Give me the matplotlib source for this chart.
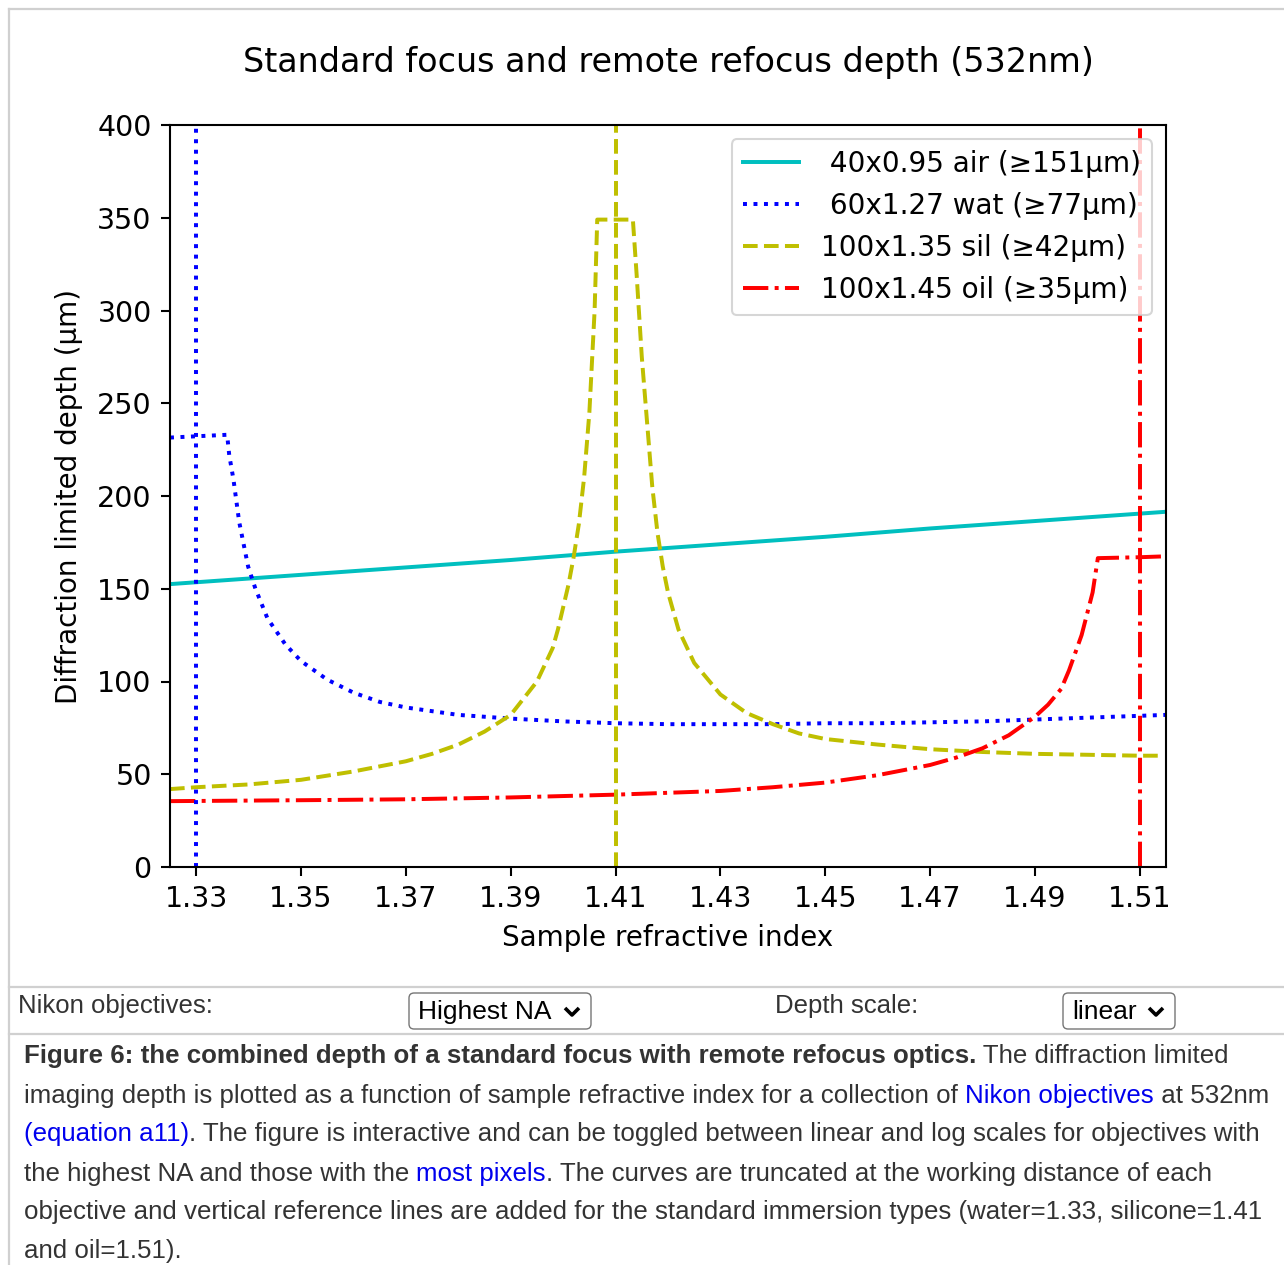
import numpy as np
import matplotlib
matplotlib.use('Agg')
import matplotlib.pyplot as plt
from matplotlib.patches import FancyBboxPatch
from matplotlib.lines import Line2D

W, H = 1284, 1265

labels = [' 40x0.95 air (≥151µm)', ' 60x1.27 wat (≥77µm)',
          '100x1.35 sil (≥42µm)', '100x1.45 oil (≥35µm)']
colors = ['c', 'b', 'y', 'r']
styles = ['-', ':', '--', '-.']

# 40x0.95 air
n_air = [1.325, 1.35, 1.37, 1.39, 1.41, 1.43, 1.45, 1.47, 1.49, 1.515]
d_air = [152.5, 157.5, 161.5, 165.5, 170, 174, 178, 182.5, 186.5, 191.5]

# 60x1.27 water
n_wat = [1.325, 1.3359, 1.3363, 1.3371, 1.3382, 1.3399, 1.3413, 1.3436, 1.347,
         1.35, 1.355, 1.36, 1.365, 1.37, 1.38, 1.39, 1.40, 1.41, 1.42, 1.43,
         1.44, 1.45, 1.46, 1.47, 1.48, 1.49, 1.50, 1.51, 1.515]
d_wat = [231.5, 233, 222, 209, 186, 162, 150, 134, 120,
         111, 101, 94, 89, 86, 82, 80, 78.5, 77.5, 77, 77,
         77, 77.5, 77.5, 78, 78.5, 79.5, 80.5, 81.5, 82]

# 100x1.35 silicone
n_sil = [1.325, 1.33, 1.34, 1.35, 1.36, 1.37, 1.375, 1.38, 1.385, 1.39, 1.395,
         1.398, 1.399, 1.40, 1.401, 1.402, 1.403, 1.404, 1.405, 1.406, 1.4065,
         1.4133, 1.414, 1.415, 1.416, 1.417, 1.418, 1.419, 1.42, 1.422, 1.425,
         1.43, 1.435, 1.44, 1.445, 1.45, 1.46, 1.47, 1.48, 1.49, 1.50, 1.51, 1.514]
d_sil = [42, 43, 44.5, 47, 51.5, 57, 61, 66, 73, 82, 100,
         118, 128, 140, 152, 167, 185, 210, 245, 300, 349,
         349, 320, 275, 240, 205, 180, 162, 148, 128, 110,
         93, 83, 77, 72, 69, 66, 63.5, 62, 61, 60.5, 60, 60]

# 100x1.45 oil
n_oil = [1.325, 1.35, 1.37, 1.39, 1.41, 1.43, 1.44, 1.45, 1.46, 1.47, 1.475,
         1.48, 1.485, 1.49, 1.4925, 1.495, 1.4965, 1.4989, 1.5010, 1.5020, 1.51, 1.515]
d_oil = [35.5, 36, 36.5, 37.5, 39, 41, 43, 45.5, 49.5, 55, 59,
         64, 71, 81, 87.5, 96, 106, 125, 148, 166.5, 167, 167.5]

immersion_n = [1.33, 1.41, 1.51]
immersion_col = ['b', 'y', 'r']
immersion_ls = [':', '--', '-.']

series_n = [n_air, n_wat, n_sil, n_oil]
series_d = [d_air, d_wat, d_sil, d_oil]

fig = plt.figure(figsize=(W / 100., H / 100.), dpi=100)
ax = fig.add_axes([170. / W, 1 - 867. / H, (1166. - 170.) / W, (867. - 125.) / H])

for n, d, c, ls, lab in zip(series_n, series_d, colors, styles, labels):
    ax.plot(n, d, color=c, linestyle=ls, linewidth=2.85, label=lab)
for n0, c, ls in zip(immersion_n, immersion_col, immersion_ls):
    ax.plot([n0, n0], [0, 400], color=c, linestyle=ls, linewidth=2.85)

ax.set_xlim(1.325, 1.515)
ax.set_ylim(0, 400)
ax.set_xticks([1.33, 1.35, 1.37, 1.39, 1.41, 1.43, 1.45, 1.47, 1.49, 1.51])
ax.set_yticks(range(0, 401, 50))
ax.tick_params(labelsize=20.5, length=6.6, width=1.5, pad=6.6)
for s in ax.spines.values():
    s.set_linewidth(1.5)
ax.set_xlabel('Sample refractive index', fontsize=20, labelpad=8)
ax.set_ylabel('Diffraction limited depth (µm)', fontsize=20, labelpad=10)
ax.set_title('Standard focus and remote refocus depth (532nm)', fontsize=24, pad=38)
leg = ax.legend(loc='upper right', fontsize=20.1, handlelength=2.0, labelspacing=0.5)
leg.get_frame().set_linewidth(1.5)

# page frame and control row
grey = '#d0d0d0'
for (x0, y0, x1, y1) in [(9, 9, W, 9), (9, 9, 9, H), (9, 987, W, 987), (9, 1034, W, 1034)]:
    fig.add_artist(Line2D([x0 / W, x1 / W], [1 - y0 / H, 1 - y1 / H], color=grey, linewidth=1.6))

txtcol = '#333333'
ff = 'Liberation Sans'
fig.text(18. / W, 1 - 1006. / H, 'Nikon objectives:', fontsize=18.5, family=ff, color=txtcol, va='center')
fig.text(775. / W, 1 - 1006. / H, 'Depth scale:', fontsize=18.5, family=ff, color=txtcol, va='center')

for (bx0, bx1, opt) in [(409, 591, 'Highest NA'), (1063, 1175, 'linear')]:
    box = FancyBboxPatch((bx0 / W, 1 - 1029. / H), (bx1 - bx0) / W, 36. / H,
                         boxstyle='round,pad=0,rounding_size=0.004',
                         transform=fig.transFigure, facecolor='white',
                         edgecolor='#767676', linewidth=1.0)
    fig.add_artist(box)
    fig.text((bx0 + 9.) / W, 1 - 1012. / H, opt, fontsize=19, family=ff, color='black', va='center')
    cx = bx1 - 19.
    fig.add_artist(Line2D([(cx - 7) / W, cx / W, (cx + 7) / W],
                          [1 - 1008. / H, 1 - 1015. / H, 1 - 1008. / H],
                          color='black', linewidth=2.6, solid_capstyle='butt'))

# caption
blue = '#0000ee'
caption = [
    [('Figure 6: the combined depth of a standard focus with remote refocus optics.', txtcol, 'bold'),
     (' The diffraction limited', txtcol, 'normal')],
    [('imaging depth is plotted as a function of sample refractive index for a collection of ', txtcol, 'normal'),
     ('Nikon objectives', blue, 'normal'), (' at 532nm', txtcol, 'normal')],
    [('(equation a11)', blue, 'normal'),
     ('. The figure is interactive and can be toggled between linear and log scales for objectives with', txtcol, 'normal')],
    [('the highest NA and those with the ', txtcol, 'normal'), ('most pixels', blue, 'normal'),
     ('. The curves are truncated at the working distance of each', txtcol, 'normal')],
    [('objective and vertical reference lines are added for the standard immersion types (water=1.33, silicone=1.41', txtcol, 'normal')],
    [('and oil=1.51).', txtcol, 'normal')],
]
line_y = [1056, 1096, 1134, 1174, 1212, 1251]
renderer = fig.canvas.get_renderer()
for y, parts in zip(line_y, caption):
    x = 24.
    for txt, col, wt in parts:
        t = fig.text(x / W, 1 - y / H, txt, fontsize=18.65, family=ff, color=col,
                     fontweight=wt, va='center', ha='left')
        x += t.get_window_extent(renderer=renderer).width

fig.savefig('out.png', dpi=100)
